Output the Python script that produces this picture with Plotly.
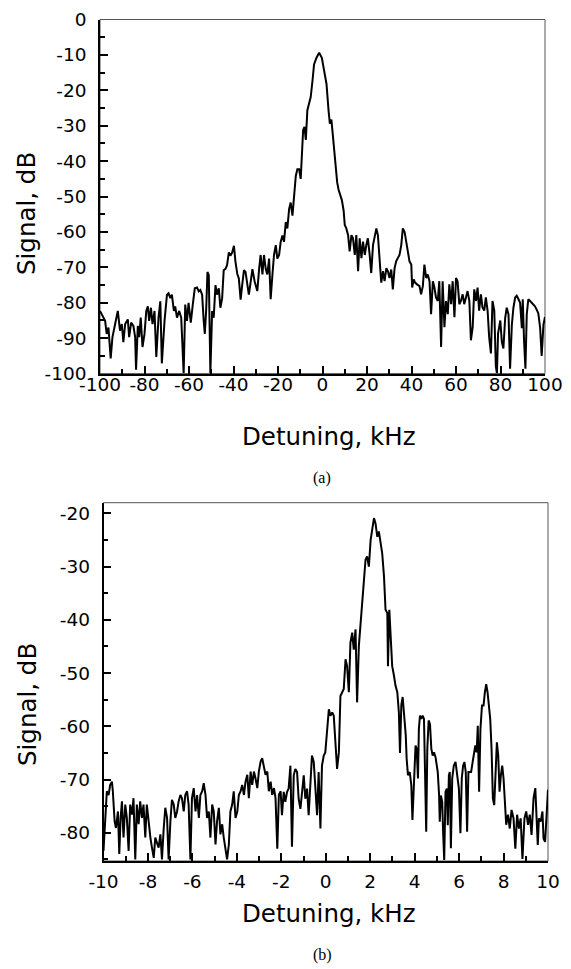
import plotly.graph_objects as go

# ---------------- Panel (a) data: detuning (kHz) vs signal (dB) ----------------
freq_a = [
    -100.0, -99.2, -98.5, -97.7, -97.0, -96.2, -95.2, -94.4, -93.2, -92.0, -91.0, -90.2, -89.5, -88.7,
    -87.5, -86.9, -86.0, -85.0, -84.2, -83.8, -83.0, -82.4, -81.7, -80.9, -80.0, -79.2, -78.5, -77.9,
    -77.1, -76.4, -75.5, -74.7, -73.7, -72.9, -72.2, -71.0, -69.9, -69.2, -68.4, -67.7, -66.8, -66.2,
    -65.4, -64.4, -63.5, -62.4, -61.7, -60.9, -60.2, -59.2, -58.3, -57.4, -56.4, -55.6, -54.9, -54.1,
    -53.4, -52.9, -52.3, -51.7, -51.1, -50.4, -49.6, -48.9, -48.1, -47.4, -46.6, -45.9, -45.1, -44.4,
    -43.6, -42.9, -42.1, -41.4, -40.6, -39.8, -39.1, -38.3, -37.6, -36.8, -36.1, -35.3, -34.6, -33.8,
    -33.1, -32.7, -31.5, -30.5, -29.3, -28.5, -27.8, -27.0, -26.3, -25.5, -24.8, -24.0, -23.3, -22.5,
    -21.8, -21.0, -20.3, -19.5, -18.8, -18.0, -17.3, -16.5, -15.8, -15.0, -14.3, -13.5, -12.8, -12.0,
    -11.3, -10.5, -9.8, -9.3, -8.7, -8.1, -7.5, -6.8, -6.0, -5.3, -4.5, -3.8, -2.7, -1.5,
    -0.3, 0.7, 1.8, 2.7, 3.3, 4.0, 4.5, 5.2, 6.0, 6.6, 7.2, 7.8, 8.7, 9.5,
    10.0, 10.7, 11.5, 12.2, 13.0, 13.7, 14.5, 15.2, 16.0, 16.7, 17.5, 18.2, 19.0, 19.7,
    20.4, 21.2, 21.9, 22.7, 23.4, 24.2, 24.9, 25.7, 26.4, 27.2, 27.9, 28.7, 29.4, 30.1,
    30.9, 31.6, 32.4, 33.1, 33.9, 34.6, 35.4, 36.1, 36.9, 37.6, 38.4, 39.1, 39.9, 40.3,
    41.0, 41.6, 42.5, 43.6, 44.3, 45.1, 45.8, 46.6, 47.3, 48.1, 48.8, 49.6, 50.3, 51.0,
    51.8, 52.5, 53.3, 54.0, 54.8, 55.5, 56.3, 57.0, 57.8, 58.5, 59.3, 60.0, 60.7, 61.5,
    62.2, 63.0, 63.7, 64.5, 65.2, 66.0, 66.7, 67.5, 68.2, 69.0, 69.7, 70.4, 71.2, 71.9,
    72.7, 73.4, 74.2, 74.9, 75.7, 76.4, 77.2, 77.9, 78.4, 78.9, 79.9, 80.6, 81.3, 82.1,
    82.8, 83.6, 84.3, 85.1, 85.8, 86.6, 87.3, 88.1, 88.8, 89.6, 90.0, 90.6, 91.2, 91.8,
    92.5, 93.3, 94.0, 94.8, 95.5, 96.3, 97.0, 97.8, 98.5, 99.3, 100.0,
]
signal_a = [
    -82.3, -83.3, -84.2, -85.1, -88.8, -87.0, -95.7, -89.7, -86.0, -82.3, -87.9, -86.0, -91.1, -86.0,
    -84.7, -89.7, -85.6, -86.5, -89.7, -98.9, -86.5, -89.7, -84.2, -92.5, -88.8, -82.3, -81.0, -85.1,
    -81.4, -86.0, -82.3, -95.3, -84.2, -79.6, -97.1, -85.1, -77.7, -77.3, -78.7, -77.7, -82.3, -81.0,
    -84.2, -82.3, -84.2, -99.9, -80.5, -85.1, -80.0, -85.6, -80.5, -75.9, -75.7, -76.8, -76.4, -77.7,
    -85.1, -88.8, -82.3, -71.3, -72.2, -99.9, -82.3, -84.2, -75.0, -77.7, -75.9, -81.4, -78.7, -70.8,
    -70.4, -69.4, -65.8, -66.7, -65.8, -63.9, -68.5, -71.8, -73.1, -79.1, -75.0, -70.8, -71.3, -74.1,
    -77.7, -76.0, -70.5, -74.0, -76.7, -70.5, -66.5, -72.0, -66.5, -70.5, -72.0, -67.5, -79.0, -72.0,
    -66.5, -63.7, -67.5, -66.5, -62.8, -61.0, -62.8, -57.2, -59.0, -53.5, -51.7, -55.4, -48.8, -44.2,
    -42.3, -42.3, -45.0, -37.7, -31.2, -30.3, -34.0, -25.6, -23.8, -21.9, -17.3, -12.7, -10.8, -9.4,
    -10.8, -14.5, -18.2, -25.6, -29.4, -28.3, -32.0, -37.0, -44.0, -46.0, -48.0, -49.0, -51.0, -54.0,
    -58.0, -59.0, -60.9, -65.5, -60.9, -61.8, -66.5, -60.9, -71.1, -61.8, -67.4, -62.7, -66.5, -63.7,
    -61.8, -66.5, -71.6, -63.7, -60.9, -59.0, -60.9, -67.4, -74.3, -71.1, -73.9, -70.2, -71.1, -73.0,
    -70.6, -76.2, -70.2, -68.3, -67.4, -66.5, -63.7, -59.0, -60.0, -62.7, -66.5, -68.3, -69.2, -75.7,
    -73.4, -74.3, -74.8, -75.3, -77.6, -75.3, -69.2, -73.0, -72.0, -73.9, -83.2, -73.9, -75.7, -78.5,
    -79.5, -73.9, -92.5, -73.9, -86.9, -79.5, -83.2, -74.8, -80.4, -73.9, -84.1, -73.0, -73.9, -80.4,
    -79.5, -77.6, -80.4, -78.5, -76.7, -79.5, -90.6, -86.9, -76.2, -79.5, -75.7, -82.2, -77.6, -81.3,
    -82.2, -78.5, -82.2, -89.7, -94.3, -79.5, -82.2, -98.0, -99.9, -88.7, -85.0, -91.0, -92.9, -84.3,
    -81.4, -83.3, -98.6, -86.2, -81.4, -78.5, -78.0, -79.0, -80.0, -87.2, -79.0, -91.0, -98.6, -83.3,
    -79.0, -79.5, -80.0, -80.5, -81.0, -82.0, -83.0, -87.0, -95.0, -86.2, -84.0,
]

# ---------------- Panel (b) data ----------------
freq_b = [
    -10.00, -9.92, -9.85, -9.77, -9.70, -9.62, -9.58, -9.50, -9.44, -9.35, -9.29, -9.23, -9.17, -9.10,
    -9.02, -8.95, -8.87, -8.80, -8.72, -8.65, -8.57, -8.50, -8.42, -8.35, -8.27, -8.20, -8.12, -8.05,
    -7.97, -7.89, -7.82, -7.74, -7.67, -7.59, -7.52, -7.44, -7.37, -7.29, -7.22, -7.14, -7.07, -6.99,
    -6.92, -6.84, -6.77, -6.69, -6.62, -6.54, -6.47, -6.39, -6.32, -6.24, -6.17, -6.09, -6.02, -5.94,
    -5.86, -5.79, -5.71, -5.64, -5.56, -5.49, -5.41, -5.34, -5.26, -5.19, -5.11, -5.04, -4.96, -4.89,
    -4.81, -4.74, -4.66, -4.59, -4.51, -4.44, -4.36, -4.29, -4.21, -4.14, -4.06, -3.98, -3.91, -3.83,
    -3.76, -3.68, -3.61, -3.53, -3.46, -3.38, -3.31, -3.23, -3.16, -3.08, -3.01, -2.93, -2.86, -2.78,
    -2.71, -2.63, -2.56, -2.48, -2.41, -2.33, -2.26, -2.18, -2.11, -2.03, -1.97, -1.89, -1.82, -1.74,
    -1.67, -1.59, -1.52, -1.44, -1.37, -1.29, -1.22, -1.14, -1.07, -0.99, -0.92, -0.84, -0.77, -0.69,
    -0.62, -0.54, -0.47, -0.39, -0.32, -0.24, -0.17, -0.09, -0.02, 0.06, 0.14, 0.21, 0.29, 0.36,
    0.44, 0.51, 0.59, 0.66, 0.74, 0.81, 0.89, 0.96, 1.04, 1.11, 1.19, 1.26, 1.34, 1.41,
    1.49, 1.56, 1.64, 1.71, 1.79, 1.86, 1.94, 2.02, 2.09, 2.17, 2.24, 2.32, 2.39, 2.47,
    2.54, 2.62, 2.69, 2.77, 2.80, 2.86, 2.92, 2.99, 3.07, 3.14, 3.22, 3.29, 3.34, 3.40,
    3.46, 3.52, 3.60, 3.64, 3.70, 3.78, 3.85, 3.90, 3.97, 4.04, 4.09, 4.15, 4.19, 4.24,
    4.30, 4.36, 4.42, 4.48, 4.52, 4.57, 4.63, 4.69, 4.75, 4.81, 4.87, 4.94, 4.99, 5.04,
    5.10, 5.13, 5.18, 5.24, 5.28, 5.33, 5.39, 5.45, 5.49, 5.54, 5.58, 5.63, 5.69, 5.76,
    5.84, 5.91, 5.99, 6.06, 6.12, 6.18, 6.24, 6.30, 6.36, 6.42, 6.48, 6.54, 6.61, 6.67,
    6.73, 6.79, 6.84, 6.90, 6.96, 7.03, 7.10, 7.16, 7.22, 7.28, 7.34, 7.40, 7.46, 7.52,
    7.58, 7.64, 7.70, 7.76, 7.82, 7.88, 7.94, 8.00, 8.04, 8.12, 8.20, 8.28, 8.36, 8.45,
    8.53, 8.61, 8.69, 8.77, 8.85, 8.94, 9.02, 9.10, 9.18, 9.26, 9.35, 9.43, 9.48, 9.54,
    9.59, 9.67, 9.75, 9.80, 9.87, 9.92, 10.00,
]
signal_b = [
    -83.4, -77.8, -72.2, -72.9, -71.0, -70.4, -72.2, -77.8, -79.1, -76.0, -84.0, -77.2, -74.1, -80.9,
    -74.7, -77.2, -83.4, -74.7, -76.6, -73.5, -85.0, -74.7, -78.4, -74.1, -77.2, -74.7, -80.9, -74.7,
    -78.4, -80.9, -82.8, -84.7, -80.9, -82.2, -82.8, -80.3, -85.0, -79.1, -75.3, -77.2, -85.0, -77.8,
    -73.8, -74.7, -77.2, -76.0, -74.1, -72.9, -73.5, -76.0, -72.9, -72.2, -74.7, -85.0, -73.5, -71.6,
    -76.0, -72.9, -77.2, -72.9, -72.2, -70.7, -72.9, -77.2, -76.0, -80.9, -74.7, -76.0, -82.2, -77.8,
    -75.3, -80.3, -78.4, -80.9, -83.4, -85.0, -82.2, -76.0, -74.7, -72.2, -77.2, -76.0, -72.9, -72.2,
    -71.0, -72.9, -70.4, -69.1, -73.5, -68.5, -71.0, -68.5, -69.8, -71.6, -68.5, -66.6, -66.0, -67.9,
    -69.1, -68.5, -72.2, -70.4, -72.9, -71.6, -73.5, -83.0, -72.9, -72.2, -76.7, -72.3, -74.2, -72.3,
    -71.7, -67.4, -82.6, -69.2, -68.0, -68.6, -73.6, -75.5, -72.0, -69.2, -73.6, -71.7, -76.7, -69.2,
    -65.5, -66.7, -70.5, -76.7, -68.6, -79.2, -67.4, -65.5, -64.9, -61.1, -56.8, -58.0, -57.4, -58.0,
    -63.6, -68.0, -64.9, -54.3, -53.6, -53.0, -47.4, -48.7, -53.6, -44.3, -42.4, -45.6, -41.8, -55.5,
    -44.9, -41.2, -36.2, -33.1, -28.7, -28.1, -30.0, -25.0, -23.1, -20.9, -21.9, -24.4, -23.4, -25.6,
    -27.5, -31.8, -38.1, -38.7, -48.7, -38.1, -43.1, -48.7, -50.5, -52.4, -53.6, -57.4, -65.0, -56.0,
    -54.5, -58.0, -61.7, -66.1, -69.2, -68.6, -71.1, -77.6, -69.8, -63.6, -64.2, -69.8, -60.5, -58.0,
    -58.6, -58.0, -58.6, -68.6, -79.8, -64.2, -58.9, -59.6, -64.2, -65.5, -64.9, -65.8, -67.4, -68.6,
    -73.0, -77.9, -73.0, -74.2, -79.8, -85.1, -72.3, -71.7, -78.6, -69.2, -68.6, -82.9, -69.8, -67.4,
    -66.7, -69.2, -71.7, -80.1, -69.8, -67.4, -66.7, -68.6, -79.8, -68.6, -68.6, -68.6, -66.7, -64.9,
    -63.6, -64.9, -59.9, -72.3, -60.5, -56.1, -56.1, -53.6, -52.1, -53.6, -56.1, -58.6, -64.2, -73.6,
    -74.8, -67.4, -63.0, -65.5, -72.3, -69.2, -67.4, -69.8, -72.5, -78.5, -76.6, -79.2, -75.7, -77.3,
    -83.0, -76.6, -79.2, -77.3, -84.9, -77.3, -76.0, -78.5, -76.6, -80.4, -73.5, -71.6, -76.6, -82.3,
    -77.3, -77.9, -76.0, -81.1, -81.7, -77.3, -71.9,
]

# ---------------- Axis ticks / labels ----------------
xticks_a = [-100, -80, -60, -40, -20, 0, 20, 40, 60, 80, 100]
yticks_a = [0, -10, -20, -30, -40, -50, -60, -70, -80, -90, -100]
xticks_b = [-10, -8, -6, -4, -2, 0, 2, 4, 6, 8, 10]
yticks_b = [-20, -30, -40, -50, -60, -70, -80]
x_title = "Detuning, kHz"
y_title = "Signal, dB"
panel_labels = ["(a)", "(b)"]

# The page body has an 8px default margin, so the figure is drawn 8px in from
# the window's top-left corner; the figure is sized to fill the rest exactly.
OFF = 8
W, H = 571 - OFF, 969 - OFF
FONT = "DejaVu Sans, Liberation Sans, Arial, sans-serif"
TICK_SIZE = 18.5
TITLE_SIZE = 24.5


def lbl(v):
    return ("-" + str(abs(v))) if v < 0 else str(v)


def px_x(p):
    return (p - OFF) / W


def px_y(p):
    return 1 - (p - OFF) / H


fig = go.Figure()
fig.add_trace(go.Scatter(x=freq_a, y=signal_a, mode="lines",
                         line=dict(color="black", width=2), xaxis="x", yaxis="y",
                         showlegend=False, hoverinfo="skip"))
fig.add_trace(go.Scatter(x=freq_b, y=signal_b, mode="lines",
                         line=dict(color="black", width=2), xaxis="x2", yaxis="y2",
                         showlegend=False, hoverinfo="skip"))

axis_common = dict(showgrid=False, zeroline=False, showline=True, linecolor="black",
                   linewidth=1.5, ticks="inside", ticklen=8, tickwidth=1.5, tickcolor="black",
                   tickfont=dict(family=FONT, size=TICK_SIZE, color="black"), mirror=False,
                   automargin=False, ticklabeloverflow="allow")
minor_common = dict(ticks="inside", ticklen=5, tickwidth=1.5, tickcolor="black", showgrid=False)

fig.update_layout(
    template="none",
    width=W, height=H, margin=dict(l=0, r=0, t=0, b=0, autoexpand=False),
    paper_bgcolor="white", plot_bgcolor="white", showlegend=False,
    xaxis=dict(domain=[px_x(100), px_x(545)], range=[-100, 100], anchor="y",
               tickmode="array", tickvals=xticks_a, ticktext=[lbl(v) for v in xticks_a],
               minor=dict(dtick=10, tick0=0, **minor_common), ticklabelstandoff=-7, **axis_common),
    yaxis=dict(domain=[px_y(373.6), px_y(19.5)], range=[-100, 0], anchor="x",
               tickmode="array", tickvals=yticks_a, ticktext=[lbl(v) for v in yticks_a],
               minor=dict(dtick=5, tick0=0, **minor_common), ticklabelstandoff=8, **axis_common),
    xaxis2=dict(domain=[px_x(103.5), px_x(548)], range=[-10, 10], anchor="y2",
                tickmode="array", tickvals=xticks_b, ticktext=[lbl(v) for v in xticks_b],
                minor=dict(dtick=1, tick0=0, **minor_common), ticklabelstandoff=3, **axis_common),
    yaxis2=dict(domain=[px_y(861), px_y(502.7)], range=[-85.3, -18], anchor="x2",
                tickmode="array", tickvals=yticks_b, ticktext=[lbl(v) for v in yticks_b],
                minor=dict(dtick=5, tick0=0, **minor_common), ticklabelstandoff=8, **axis_common),
)

# thin frame (top / right borders)
for xr, yr in (("x domain", "y domain"), ("x2 domain", "y2 domain")):
    fig.add_shape(type="rect", xref=xr, yref=yr, x0=0, x1=1, y0=0, y1=1,
                  line=dict(color="#555555", width=1), layer="below")

ann = []
for yc in (214, 705):
    ann.append(dict(text=y_title, x=px_x(27), y=px_y(yc), xref="paper", yref="paper",
                    showarrow=False, textangle=-90, xanchor="center", yanchor="middle",
                    font=dict(family=FONT, size=TITLE_SIZE, color="black")))
for yc in (437, 913):
    ann.append(dict(text=x_title, x=px_x(329), y=px_y(yc), xref="paper", yref="paper",
                    showarrow=False, xanchor="center", yanchor="middle",
                    font=dict(family=FONT, size=TITLE_SIZE, color="black")))
for t, yc in zip(panel_labels, (478, 955)):
    ann.append(dict(text=t, x=px_x(322), y=px_y(yc), xref="paper", yref="paper",
                    showarrow=False, xanchor="center", yanchor="middle",
                    font=dict(family="Liberation Serif, Times New Roman, serif", size=16, color="black")))
fig.update_layout(annotations=ann)

fig.write_html("out.html")
